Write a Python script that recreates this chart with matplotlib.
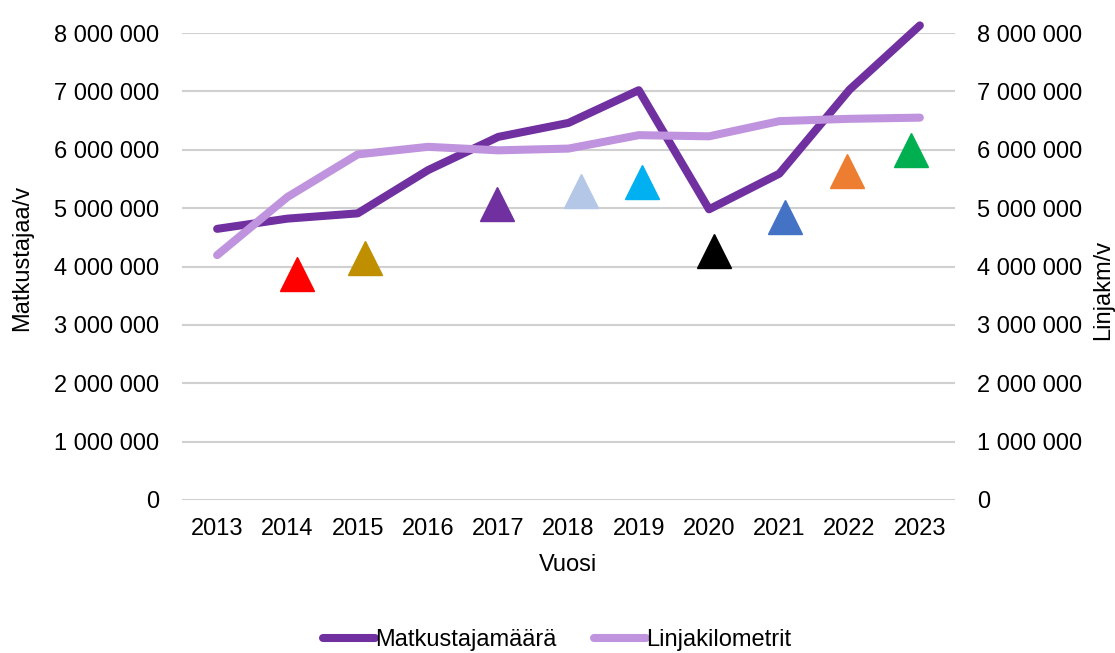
import matplotlib
matplotlib.use("Agg")
import matplotlib.pyplot as plt
from matplotlib.ticker import FuncFormatter, MultipleLocator

plt.rcParams['font.family'] = ['Liberation Sans', 'DejaVu Sans']

vuodet = ['2013', '2014', '2015', '2016', '2017', '2018', '2019', '2020', '2021', '2022', '2023']
matkustajat = [4645000, 4820000, 4910000, 5650000, 6220000, 6460000, 7020000, 4980000, 5590000, 7030000, 8130000]
linjakm = [4195000, 5190000, 5920000, 6050000, 5990000, 6020000, 6250000, 6230000, 6490000, 6530000, 6550000]

# erilliset kolmiot (x = vuoden indeksi)
kolmio_x = [1.14, 2.10, 3.98, 5.18, 6.05, 7.07, 8.08, 8.97, 9.88]
kolmio_y = [3875000, 4150000, 5070000, 5285000, 5450000, 4270000, 4850000, 5640000, 5990000]
kolmio_varit = ['#FF0000', '#BF8F00', '#7030A0', '#B4C7E7', '#00B0F0', '#000000', '#4472C4', '#ED7D31', '#00B050']

def muotoilu(v, pos):
    return f"{int(v):,}".replace(',', ' ')

fig = plt.figure(figsize=(11.15, 6.53), dpi=100)
ax = fig.add_axes([182/1115, 1 - 500/653, 773/1115, 467/653])
ax2 = ax.twinx()

x = list(range(len(vuodet)))

for kx, ky, kv in zip(kolmio_x, kolmio_y, kolmio_varit):
    ax.plot(kx, ky, marker='^', markersize=25, color=kv, linestyle='none', zorder=3)

l1, = ax.plot(x, matkustajat, color='#7030A0', lw=5.8, solid_capstyle='round',
              solid_joinstyle='round', clip_on=False, zorder=4, label='Matkustajamäärä')
l2, = ax2.plot(x, linjakm, color='#BF93DD', lw=5.8, solid_capstyle='round',
               solid_joinstyle='round', clip_on=False, zorder=4, label='Linjakilometrit')

for a in (ax, ax2):
    a.set_ylim(0, 8000000)
    a.set_xlim(-0.5, 10.5)
    a.yaxis.set_major_locator(MultipleLocator(1000000))
    a.yaxis.set_major_formatter(FuncFormatter(muotoilu))
    for s in a.spines.values():
        s.set_visible(False)
    a.tick_params(length=0, labelsize=17, colors='#000000')

ax.grid(axis='y', color='#D0D0D0', lw=1.5)
ax.set_axisbelow(True)
ax.tick_params(axis='y', pad=16.5)
ax2.tick_params(axis='y', pad=16)
ax.set_xticks(x)
ax.set_xticklabels(vuodet)
ax.tick_params(axis='x', pad=13)

ax.set_xlabel('Vuosi', fontsize=17, labelpad=10)
ax.set_ylabel('Matkustajaa/v', fontsize=17)
ax.yaxis.set_label_coords(-0.193, 0.518)
ax2.set_ylabel('Linjakm/v', fontsize=17, rotation=90)
ax2.yaxis.set_label_coords(1.177, 0.45)

fig.legend(handles=[l1, l2], loc='center', bbox_to_anchor=(557/1115, 1 - 640/653),
           ncol=2, frameon=False, fontsize=17, handlelength=2.2, handletextpad=0.0,
           columnspacing=1.6)

fig.savefig('out.png', dpi=100)
